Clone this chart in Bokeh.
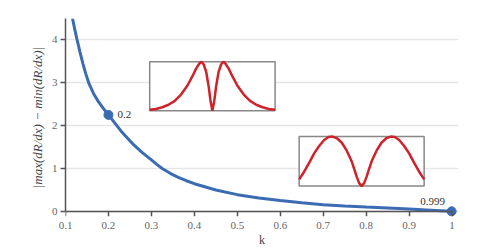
from bokeh.plotting import figure
from bokeh.models import Range1d, FixedTicker, LinearAxis
from bokeh.core.properties import value
from bokeh.embed import file_html
from bokeh.resources import INLINE

# ---- data ----
k_values = [0.1163, 0.1217, 0.127, 0.1338, 0.1405, 0.1473, 0.154, 0.1655, 0.177, 0.1885,
            0.2, 0.2295, 0.259, 0.2795, 0.3, 0.3125, 0.325, 0.3438, 0.3625, 0.3813,
            0.4, 0.45, 0.5, 0.55, 0.6, 0.65, 0.7, 0.75, 0.8, 0.85, 0.9, 0.95, 0.999]
spread_values = [4.50, 4.24, 4.00, 3.716, 3.449, 3.208, 3.00, 2.744, 2.553, 2.398,
                 2.25, 1.871, 1.55, 1.366, 1.20, 1.095, 1.00, 0.888, 0.794, 0.7145,
                 0.645, 0.4975, 0.39, 0.314, 0.256, 0.20, 0.155, 0.125, 0.10, 0.077, 0.054, 0.028, 0.0]

marked_k = [0.2, 0.999]
marked_spread = [2.25, 0.0]
marked_labels = ["0.2", "0.999"]

x_ticks = [0.1, 0.2, 0.3, 0.4, 0.5, 0.6, 0.7, 0.8, 0.9, 1]
x_tick_labels = ["0.1", "0.2", "0.3", "0.4", "0.5", "0.6", "0.7", "0.8", "0.9", "1"]
y_ticks = [0, 1, 2, 3, 4]

# inset profiles (normalised position u, normalised value v)
inset_a_u = [0, 0.05, 0.10, 0.15, 0.20, 0.25, 0.30, 0.34, 0.37, 0.395, 0.413, 0.43, 0.45, 0.47,
             0.485, 0.5, 0.515, 0.53, 0.55, 0.57, 0.587, 0.605, 0.63, 0.66, 0.70, 0.75, 0.80,
             0.85, 0.90, 0.95, 1.0]
inset_a_v = [0.02, 0.035, 0.07, 0.12, 0.20, 0.33, 0.51, 0.70, 0.86, 0.96, 1.0, 0.95, 0.80, 0.50,
             0.20, 0.0, 0.20, 0.50, 0.80, 0.95, 1.0, 0.96, 0.86, 0.70, 0.51, 0.33, 0.20,
             0.12, 0.07, 0.035, 0.02]
inset_b_u = [0, 0.04, 0.08, 0.12, 0.16, 0.20, 0.235, 0.267, 0.30, 0.34, 0.38, 0.42, 0.44, 0.46,
             0.48, 0.5, 0.52, 0.54, 0.56, 0.58, 0.62, 0.66, 0.70, 0.733, 0.765, 0.80, 0.84,
             0.88, 0.92, 0.96, 1.0]
inset_b_v = [0.135, 0.29, 0.47, 0.66, 0.81, 0.93, 0.99, 1.0, 0.97, 0.88, 0.72, 0.50, 0.35, 0.19,
             0.06, 0.0, 0.06, 0.19, 0.35, 0.50, 0.72, 0.88, 0.97, 1.0, 0.99, 0.93, 0.81,
             0.66, 0.47, 0.29, 0.135]

# ---- layout / style ----
X_START, X_END = 0.1, 1.015
Y_START, Y_END = -0.12, 4.5
INSET_A_BOX = (0.296, 0.588, 2.35, 3.49)   # left, right, bottom, top in main data units
INSET_B_BOX = (0.644, 0.935, 0.59, 1.745)

FONT = "'Liberation Serif', 'DejaVu Serif', serif"
BLUE = "#3b6cb3"
RED = "#cf232b"
AXIS = "#555555"

p = figure(width=498, height=249,
           x_range=Range1d(X_START, X_END), y_range=Range1d(Y_START, Y_END),
           output_backend="svg", toolbar_location=None,
           min_border_left=65, min_border_right=40, min_border_top=18, min_border_bottom=32)
p.outline_line_color = None
p.background_fill_color = "white"
p.border_fill_color = "white"

p.xgrid.visible = False
p.ygrid.ticker = FixedTicker(ticks=y_ticks)
p.ygrid.grid_line_color = "#e6e6e6"
p.ygrid.grid_line_width = 1.5

# label axis (below the frame): tick labels and title only
xa = p.xaxis[0]
xa.ticker = FixedTicker(ticks=x_ticks)
xa.major_label_overrides = {t: l for t, l in zip(x_ticks, x_tick_labels)}
xa.bounds = (0.1, 1.0)
xa.axis_line_color = None
xa.major_tick_line_color = None
xa.major_tick_in = 0
xa.major_tick_out = 0
xa.minor_tick_line_color = None
xa.major_label_standoff = 5
xa.major_label_text_font = FONT
xa.major_label_text_font_size = "11px"
xa.major_label_text_color = "#666666"
xa.axis_label = "k"
xa.axis_label_text_font = FONT
xa.axis_label_text_font_size = "12px"
xa.axis_label_text_font_style = "normal"
xa.axis_label_text_color = "#444444"
xa.axis_label_standoff = 1

# line + ticks axis sitting at value 0
x0 = LinearAxis(fixed_location=0, ticker=FixedTicker(ticks=x_ticks), bounds=(0.1, 1.0))
x0.axis_line_color = AXIS
x0.axis_line_width = 1.5
x0.major_tick_line_color = AXIS
x0.major_tick_line_width = 1.5
x0.major_tick_in = 0
x0.major_tick_out = 5
x0.minor_tick_line_color = None
x0.major_label_text_color = None
p.add_layout(x0, "below")

ya = p.yaxis[0]
ya.ticker = FixedTicker(ticks=y_ticks)
ya.bounds = (0, Y_END)
ya.axis_line_color = AXIS
ya.axis_line_width = 1.5
ya.major_tick_line_color = AXIS
ya.major_tick_line_width = 1.5
ya.major_tick_in = 0
ya.major_tick_out = 5
ya.minor_tick_line_color = None
ya.major_label_standoff = 3
ya.major_label_text_font = FONT
ya.major_label_text_font_size = "11px"
ya.major_label_text_color = "#666666"
ya.axis_label = "|max(dR/dx) \u2212 min(dR/dx)|"
ya.axis_label_text_font = FONT
ya.axis_label_text_font_size = "13px"
ya.axis_label_text_font_style = "italic"
ya.axis_label_text_color = "#444444"
ya.axis_label_standoff = 4


def inset_ranges(box):
    left, right, bottom, top = box
    w, h = right - left, top - bottom
    xr = Range1d((X_START - left) / w, (X_END - left) / w)
    yr = Range1d((Y_START - bottom) / h, (Y_END - bottom) / h)
    return xr, yr


ax_r, ay_r = inset_ranges(INSET_A_BOX)
bx_r, by_r = inset_ranges(INSET_B_BOX)
p.extra_x_ranges = {"ia_x": ax_r, "ib_x": bx_r}
p.extra_y_ranges = {"ia_y": ay_r, "ib_y": by_r}

for xn, yn, us, vs in (("ia_x", "ia_y", inset_a_u, inset_a_v),
                       ("ib_x", "ib_y", inset_b_u, inset_b_v)):
    p.quad(left=[0], right=[1], bottom=[0], top=[1], x_range_name=xn, y_range_name=yn,
           fill_color="white", line_color="#888888", line_width=1.5)
    p.line(us, vs, x_range_name=xn, y_range_name=yn, line_color=RED, line_width=2.5)

# main curve
p.line(k_values, spread_values, line_color=BLUE, line_width=3)
p.scatter(marked_k, marked_spread, size=9, fill_color=BLUE, line_color=BLUE)

p.text(x=[marked_k[0]], y=[marked_spread[0]], text=[marked_labels[0]],
       x_offset=9, text_align="left", text_baseline="middle",
       text_font=value(FONT), text_font_size="11px", text_color="#333333")
p.text(x=[marked_k[1]], y=[marked_spread[1]], text=[marked_labels[1]],
       x_offset=-19, y_offset=-10, text_align="center", text_baseline="middle",
       text_font=value(FONT), text_font_size="11px", text_color="#333333")

open("out.html", "w").write(file_html(p, INLINE))
